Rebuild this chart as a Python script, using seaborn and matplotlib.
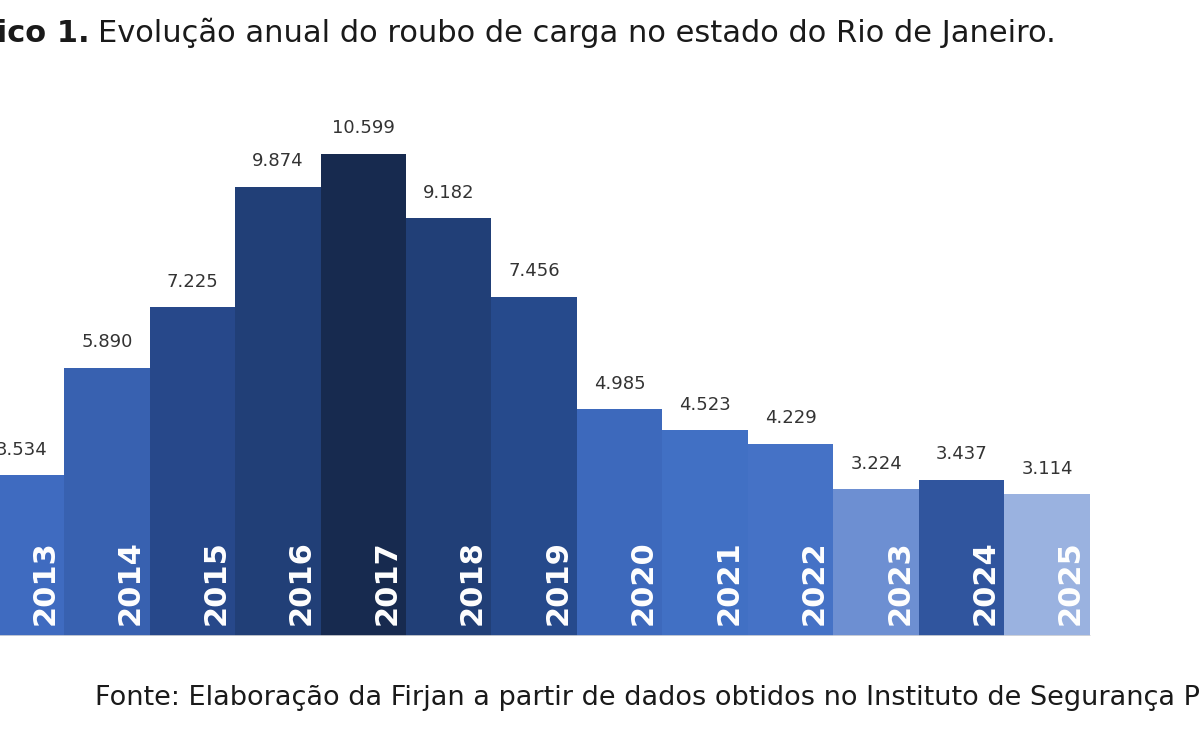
import matplotlib
matplotlib.use("Agg")
import matplotlib.pyplot as plt
import seaborn as sns
import pandas as pd

anos = ["2013", "2014", "2015", "2016", "2017", "2018", "2019",
        "2020", "2021", "2022", "2023", "2024", "2025"]
roubos = [3534, 5890, 7225, 9874, 10599, 9182, 7456,
          4985, 4523, 4229, 3224, 3437, 3114]
rotulos = ["3.534", "5.890", "7.225", "9.874", "10.599", "9.182", "7.456",
           "4.985", "4.523", "4.229", "3.224", "3.437", "3.114"]
cores = ["#3f6bc0", "#3861b0", "#27488a", "#213f77", "#172a4f", "#213f77", "#264a8c",
         "#3d69bc", "#4170c4", "#4572c6", "#6d8fd2", "#30559e", "#9ab2e0"]

df = pd.DataFrame({"ano": anos, "roubos": roubos})

sns.set_style("white")
plt.rcParams["font.family"] = ["DejaVu Sans"]

fig = plt.figure(figsize=(12, 7.5), dpi=100)
ax = fig.add_axes([0, 0.152, 1, 0.848])

sns.barplot(data=df, x="ano", y="roubos", hue="ano", palette=cores,
            width=1.0, legend=False, ax=ax, saturation=1, linewidth=0)

ax.set_xlim(-0.25, 13.79)
ax.set_ylim(0, 13984)
ax.axis("off")
ax.axhline(0, color="#d8d8d8", lw=1.2, xmax=(12.5 + 0.25) / 14.04)

for i, (v, txt) in enumerate(zip(roubos, rotulos)):
    ax.annotate(txt, (i, v), xytext=(0, 12), textcoords="offset points",
                ha="center", va="bottom", fontsize=13, color="#333333")
    ax.annotate(anos[i], (i, 0), xytext=(17, 8), textcoords="offset points",
                ha="center", va="bottom", rotation=90, fontsize=22,
                color="white", fontweight="bold")

# o título original aparece cortado à esquerda
fig.text(0.075, 0.944, "Gráfico 1.", fontsize=22, fontweight="bold",
         color="#1a1a1a", va="baseline", ha="right")
fig.text(0.082, 0.944, "Evolução anual do roubo de carga no estado do Rio de Janeiro.",
         fontsize=22, color="#1a1a1a", va="baseline", ha="left")
fig.text(0.079, 0.06, "Fonte: Elaboração da Firjan a partir de dados obtidos no Instituto de Segurança Pública",
         fontsize=19.5, color="#1a1a1a", va="baseline", ha="left")

fig.savefig("out.png", dpi=100)
